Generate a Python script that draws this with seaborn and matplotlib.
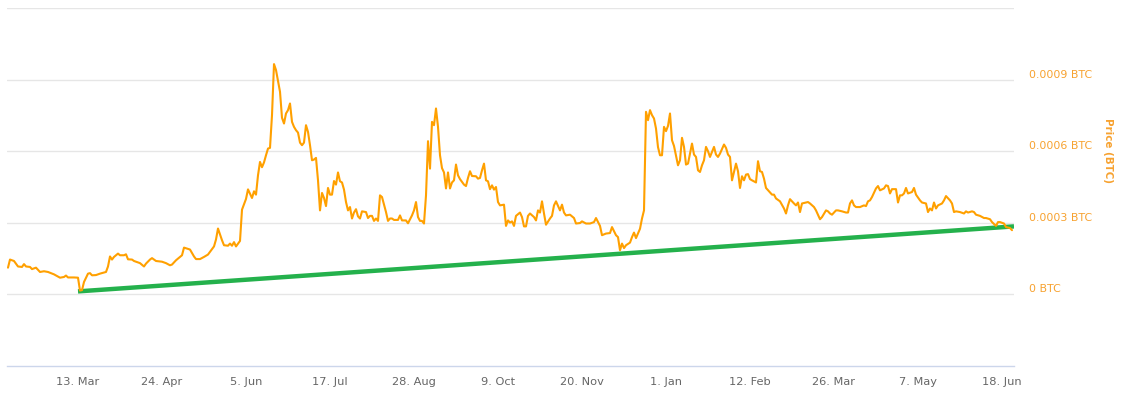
import matplotlib
matplotlib.use("Agg")
import matplotlib.pyplot as plt
import seaborn as sns
import pandas as pd

# ---------------- data ----------------
dates = [
    "2017-02-06", "2017-02-07", "2017-02-09", "2017-02-11", "2017-02-13", "2017-02-14", "2017-02-15",
    "2017-02-17", "2017-02-18", "2017-02-20", "2017-02-22", "2017-02-24", "2017-02-26", "2017-03-01",
    "2017-03-04", "2017-03-06", "2017-03-07", "2017-03-08", "2017-03-11", "2017-03-13", "2017-03-14",
    "2017-03-15", "2017-03-16", "2017-03-18", "2017-03-19", "2017-03-20", "2017-03-22", "2017-03-24",
    "2017-03-27", "2017-03-28", "2017-03-29", "2017-03-30", "2017-03-31", "2017-04-02", "2017-04-03",
    "2017-04-05", "2017-04-06", "2017-04-07", "2017-04-09", "2017-04-10", "2017-04-13", "2017-04-15",
    "2017-04-16", "2017-04-18", "2017-04-19", "2017-04-21", "2017-04-24", "2017-04-26", "2017-04-28",
    "2017-04-29", "2017-05-01", "2017-05-02", "2017-05-04", "2017-05-05", "2017-05-08", "2017-05-10",
    "2017-05-11", "2017-05-13", "2017-05-15", "2017-05-17", "2017-05-20", "2017-05-21", "2017-05-22",
    "2017-05-24", "2017-05-25", "2017-05-27", "2017-05-28", "2017-05-29", "2017-05-30", "2017-05-31",
    "2017-06-02", "2017-06-03", "2017-06-05", "2017-06-06", "2017-06-08", "2017-06-09", "2017-06-10",
    "2017-06-11", "2017-06-12", "2017-06-13", "2017-06-14", "2017-06-15", "2017-06-16", "2017-06-17",
    "2017-06-18", "2017-06-19", "2017-06-20", "2017-06-22", "2017-06-23", "2017-06-24", "2017-06-25",
    "2017-06-26", "2017-06-27", "2017-06-28", "2017-06-29", "2017-06-30", "2017-07-01", "2017-07-02",
    "2017-07-03", "2017-07-04", "2017-07-05", "2017-07-06", "2017-07-07", "2017-07-08", "2017-07-09",
    "2017-07-10", "2017-07-11", "2017-07-12", "2017-07-13", "2017-07-14", "2017-07-15", "2017-07-16",
    "2017-07-17", "2017-07-18", "2017-07-19", "2017-07-20", "2017-07-21", "2017-07-22", "2017-07-23",
    "2017-07-24", "2017-07-25", "2017-07-26", "2017-07-27", "2017-07-28", "2017-07-29", "2017-07-30",
    "2017-07-31", "2017-08-01", "2017-08-02", "2017-08-04", "2017-08-05", "2017-08-06", "2017-08-07",
    "2017-08-08", "2017-08-09", "2017-08-10", "2017-08-11", "2017-08-12", "2017-08-14", "2017-08-15",
    "2017-08-16", "2017-08-17", "2017-08-18", "2017-08-20", "2017-08-21", "2017-08-22", "2017-08-24",
    "2017-08-25", "2017-08-27", "2017-08-28", "2017-08-29", "2017-08-30", "2017-08-31", "2017-09-01",
    "2017-09-02", "2017-09-03", "2017-09-04", "2017-09-05", "2017-09-06", "2017-09-07", "2017-09-08",
    "2017-09-09", "2017-09-10", "2017-09-11", "2017-09-12", "2017-09-13", "2017-09-14", "2017-09-15",
    "2017-09-16", "2017-09-17", "2017-09-18", "2017-09-19", "2017-09-20", "2017-09-22", "2017-09-23",
    "2017-09-24", "2017-09-25", "2017-09-26", "2017-09-28", "2017-09-29", "2017-09-30", "2017-10-01",
    "2017-10-02", "2017-10-03", "2017-10-04", "2017-10-05", "2017-10-06", "2017-10-07", "2017-10-08",
    "2017-10-09", "2017-10-10", "2017-10-12", "2017-10-13", "2017-10-14", "2017-10-15", "2017-10-16",
    "2017-10-17", "2017-10-18", "2017-10-20", "2017-10-21", "2017-10-22", "2017-10-23", "2017-10-24",
    "2017-10-25", "2017-10-27", "2017-10-28", "2017-10-29", "2017-10-30", "2017-10-31", "2017-11-01",
    "2017-11-02", "2017-11-04", "2017-11-05", "2017-11-06", "2017-11-07", "2017-11-09", "2017-11-10",
    "2017-11-11", "2017-11-12", "2017-11-14", "2017-11-16", "2017-11-17", "2017-11-19", "2017-11-20",
    "2017-11-22", "2017-11-24", "2017-11-26", "2017-11-27", "2017-11-29", "2017-11-30", "2017-12-02",
    "2017-12-04", "2017-12-05", "2017-12-07", "2017-12-08", "2017-12-09", "2017-12-10", "2017-12-11",
    "2017-12-12", "2017-12-14", "2017-12-15", "2017-12-16", "2017-12-17", "2017-12-19", "2017-12-20",
    "2017-12-21", "2017-12-22", "2017-12-23", "2017-12-24", "2017-12-25", "2017-12-26", "2017-12-27",
    "2017-12-28", "2017-12-29", "2017-12-30", "2017-12-31", "2018-01-01", "2018-01-02", "2018-01-03",
    "2018-01-04", "2018-01-05", "2018-01-07", "2018-01-08", "2018-01-09", "2018-01-10", "2018-01-11",
    "2018-01-12", "2018-01-14", "2018-01-15", "2018-01-16", "2018-01-17", "2018-01-18", "2018-01-19",
    "2018-01-20", "2018-01-21", "2018-01-22", "2018-01-23", "2018-01-25", "2018-01-26", "2018-01-27",
    "2018-01-28", "2018-01-30", "2018-01-31", "2018-02-01", "2018-02-02", "2018-02-03", "2018-02-04",
    "2018-02-05", "2018-02-06", "2018-02-07", "2018-02-08", "2018-02-09", "2018-02-10", "2018-02-11",
    "2018-02-12", "2018-02-13", "2018-02-15", "2018-02-16", "2018-02-17", "2018-02-18", "2018-02-19",
    "2018-02-20", "2018-02-22", "2018-02-23", "2018-02-24", "2018-02-25", "2018-02-27", "2018-03-01",
    "2018-03-02", "2018-03-03", "2018-03-04", "2018-03-06", "2018-03-07", "2018-03-08", "2018-03-09",
    "2018-03-10", "2018-03-12", "2018-03-13", "2018-03-14", "2018-03-16", "2018-03-17", "2018-03-18",
    "2018-03-19", "2018-03-20", "2018-03-22", "2018-03-23", "2018-03-24", "2018-03-25", "2018-03-27",
    "2018-03-28", "2018-03-30", "2018-04-01", "2018-04-02", "2018-04-03", "2018-04-04", "2018-04-05",
    "2018-04-06", "2018-04-08", "2018-04-10", "2018-04-11", "2018-04-12", "2018-04-13", "2018-04-14",
    "2018-04-16", "2018-04-17", "2018-04-18", "2018-04-20", "2018-04-21", "2018-04-22", "2018-04-23",
    "2018-04-24", "2018-04-26", "2018-04-27", "2018-04-28", "2018-04-29", "2018-04-30", "2018-05-01",
    "2018-05-02", "2018-05-04", "2018-05-05", "2018-05-06", "2018-05-08", "2018-05-09", "2018-05-11",
    "2018-05-12", "2018-05-13", "2018-05-14", "2018-05-15", "2018-05-16", "2018-05-17", "2018-05-19",
    "2018-05-20", "2018-05-21", "2018-05-23", "2018-05-24", "2018-05-25", "2018-05-26", "2018-05-28",
    "2018-05-30", "2018-05-31", "2018-06-01", "2018-06-03", "2018-06-04", "2018-06-05", "2018-06-07",
    "2018-06-09", "2018-06-10", "2018-06-12", "2018-06-13", "2018-06-15", "2018-06-16", "2018-06-17",
    "2018-06-19", "2018-06-20", "2018-06-22", "2018-06-23",
]

price_btc = [
    112e-6, 146e-6, 140e-6, 117e-6, 115e-6, 127e-6, 117e-6,
    115e-6, 106e-6, 112e-6, 94e-6, 97e-6, 94e-6, 84e-6,
    70e-6, 73e-6, 79e-6, 71e-6, 71e-6, 70e-6, 16e-6,
    18e-6, 52e-6, 87e-6, 89e-6, 80e-6, 81e-6, 87e-6,
    94e-6, 117e-6, 159e-6, 146e-6, 157e-6, 171e-6, 164e-6,
    164e-6, 168e-6, 147e-6, 146e-6, 140e-6, 131e-6, 117e-6,
    129e-6, 146e-6, 152e-6, 140e-6, 137e-6, 131e-6, 122e-6,
    125e-6, 143e-6, 150e-6, 164e-6, 196e-6, 188e-6, 159e-6,
    148e-6, 148e-6, 157e-6, 167e-6, 201e-6, 230e-6, 276e-6,
    227e-6, 206e-6, 204e-6, 213e-6, 204e-6, 219e-6, 201e-6,
    224e-6, 355e-6, 400e-6, 440e-6, 404e-6, 432e-6, 418e-6,
    499e-6, 555e-6, 533e-6, 553e-6, 583e-6, 611e-6, 614e-6,
    751e-6, 965e-6, 940e-6, 849e-6, 740e-6, 716e-6, 758e-6,
    772e-6, 800e-6, 723e-6, 702e-6, 688e-6, 678e-6, 636e-6,
    625e-6, 636e-6, 709e-6, 681e-6, 625e-6, 562e-6, 565e-6,
    572e-6, 478e-6, 352e-6, 425e-6, 404e-6, 370e-6, 446e-6,
    418e-6, 418e-6, 475e-6, 460e-6, 511e-6, 474e-6, 469e-6,
    439e-6, 387e-6, 352e-6, 366e-6, 318e-6, 343e-6, 357e-6,
    327e-6, 318e-6, 348e-6, 345e-6, 320e-6, 329e-6, 329e-6,
    308e-6, 318e-6, 308e-6, 415e-6, 408e-6, 345e-6, 308e-6,
    318e-6, 318e-6, 312e-6, 312e-6, 331e-6, 310e-6, 310e-6,
    298e-6, 331e-6, 352e-6, 387e-6, 324e-6, 308e-6, 308e-6,
    297e-6, 415e-6, 642e-6, 527e-6, 723e-6, 709e-6, 779e-6,
    702e-6, 583e-6, 529e-6, 511e-6, 444e-6, 511e-6, 444e-6,
    469e-6, 478e-6, 544e-6, 499e-6, 483e-6, 460e-6, 454e-6,
    488e-6, 516e-6, 496e-6, 495e-6, 485e-6, 488e-6, 520e-6,
    548e-6, 478e-6, 474e-6, 441e-6, 457e-6, 439e-6, 450e-6,
    387e-6, 373e-6, 376e-6, 287e-6, 310e-6, 301e-6, 306e-6,
    287e-6, 329e-6, 343e-6, 324e-6, 285e-6, 285e-6, 329e-6,
    339e-6, 324e-6, 310e-6, 352e-6, 343e-6, 390e-6, 339e-6,
    292e-6, 318e-6, 329e-6, 373e-6, 390e-6, 352e-6, 376e-6,
    343e-6, 331e-6, 334e-6, 320e-6, 297e-6, 299e-6, 306e-6,
    297e-6, 297e-6, 303e-6, 320e-6, 287e-6, 248e-6, 255e-6,
    257e-6, 282e-6, 248e-6, 240e-6, 185e-6, 213e-6, 194e-6,
    206e-6, 217e-6, 240e-6, 259e-6, 236e-6, 275e-6, 318e-6,
    352e-6, 765e-6, 730e-6, 772e-6, 751e-6, 737e-6, 695e-6,
    617e-6, 583e-6, 583e-6, 702e-6, 684e-6, 706e-6, 758e-6,
    646e-6, 622e-6, 541e-6, 562e-6, 656e-6, 618e-6, 544e-6,
    548e-6, 632e-6, 586e-6, 576e-6, 520e-6, 513e-6, 541e-6,
    562e-6, 618e-6, 600e-6, 576e-6, 618e-6, 586e-6, 576e-6,
    590e-6, 628e-6, 614e-6, 586e-6, 576e-6, 478e-6, 513e-6,
    548e-6, 516e-6, 446e-6, 495e-6, 478e-6, 502e-6, 504e-6,
    483e-6, 478e-6, 469e-6, 558e-6, 516e-6, 513e-6, 485e-6,
    446e-6, 427e-6, 418e-6, 418e-6, 402e-6, 390e-6, 360e-6,
    339e-6, 373e-6, 399e-6, 381e-6, 373e-6, 385e-6, 345e-6,
    381e-6, 385e-6, 387e-6, 381e-6, 366e-6, 352e-6, 334e-6,
    315e-6, 324e-6, 352e-6, 348e-6, 339e-6, 334e-6, 352e-6,
    352e-6, 348e-6, 343e-6, 343e-6, 381e-6, 394e-6, 373e-6,
    366e-6, 366e-6, 373e-6, 370e-6, 390e-6, 394e-6, 408e-6,
    444e-6, 454e-6, 436e-6, 444e-6, 457e-6, 454e-6, 423e-6,
    441e-6, 441e-6, 385e-6, 415e-6, 415e-6, 423e-6, 446e-6,
    423e-6, 429e-6, 446e-6, 418e-6, 394e-6, 385e-6, 381e-6,
    345e-6, 360e-6, 352e-6, 385e-6, 360e-6, 373e-6, 381e-6,
    394e-6, 412e-6, 394e-6, 381e-6, 345e-6, 348e-6, 345e-6,
    339e-6, 348e-6, 343e-6, 348e-6, 345e-6, 334e-6, 329e-6,
    320e-6, 320e-6, 315e-6, 303e-6, 287e-6, 303e-6, 303e-6,
    297e-6, 282e-6, 278e-6, 269e-6,
]

trend_dates = ["2017-03-13", "2018-06-24"]
trend_btc = [12.6e-6, 285e-6]

tick_dates = ["2017-03-13", "2017-04-24", "2017-06-05", "2017-07-17", "2017-08-28", "2017-10-09",
              "2017-11-20", "2018-01-01", "2018-02-12", "2018-03-26", "2018-05-07", "2018-06-18"]
tick_labels = ["13. Mar", "24. Apr", "5. Jun", "17. Jul", "28. Aug", "9. Oct",
               "20. Nov", "1. Jan", "12. Feb", "26. Mar", "7. May", "18. Jun"]

y_ticks = [0.0, 0.0003, 0.0006, 0.0009, 0.0012]
y_tick_labels = ["0 BTC", "0.0003 BTC", "0.0006 BTC", "0.0009 BTC", ""]

# ---------------- style ----------------
sns.set_style("white")
plt.rcParams["font.family"] = ["DejaVu Sans"]

ORANGE = "#ffa000"
LABEL_ORANGE = "#f7a230"
GREEN = "#24b14c"

W, H = 1128, 394
fig = plt.figure(figsize=(W / 100, H / 100), dpi=100)
ax = fig.add_axes([7 / W, 28 / H, 1007 / W, 358 / H])

df = pd.DataFrame({"date": pd.to_datetime(dates), "price": price_btc})
trend = pd.DataFrame({"date": pd.to_datetime(trend_dates), "price": trend_btc})

sns.lineplot(data=trend, x="date", y="price", color=GREEN, lw=3.2, ax=ax,
             solid_capstyle="butt", zorder=3)
sns.lineplot(data=df, x="date", y="price", color=ORANGE, lw=1.5, ax=ax, zorder=4)

ax.set_xlim(pd.Timestamp("2017-02-05 12:00"), pd.Timestamp("2018-06-24"))
ax.set_ylim(-0.0003, 0.0012)

# y axis on right
ax.yaxis.tick_right()
ax.set_yticks(y_ticks)
ax.set_yticklabels(y_tick_labels)
ax.tick_params(axis="y", length=0, pad=11, labelsize=7.9, labelcolor=LABEL_ORANGE)
for lab in ax.get_yticklabels():
    lab.set_verticalalignment("bottom")
ax.yaxis.grid(True, color="#e6e6e6", lw=1)
ax.xaxis.grid(False)
ax.set_axisbelow(True)

# x axis
ax.set_xticks(pd.to_datetime(tick_dates))
ax.set_xticklabels(tick_labels)
ax.tick_params(axis="x", length=7.2, width=0.8, color="#ccd6eb", pad=1,
               labelsize=8.2, labelcolor="#666666", direction="out")

for side in ["left", "right", "top"]:
    ax.spines[side].set_visible(False)
ax.spines["bottom"].set_color("#ccd6eb")
ax.spines["bottom"].set_linewidth(1)
ax.set_xlabel("")
ax.set_ylabel("")

fig.text(1108 / W, 1 - 151 / H, "Price (BTC)", rotation=270, color=LABEL_ORANGE,
         fontsize=7.4, fontweight="bold", ha="center", va="center")

fig.savefig("out.png", dpi=100, facecolor="white")
